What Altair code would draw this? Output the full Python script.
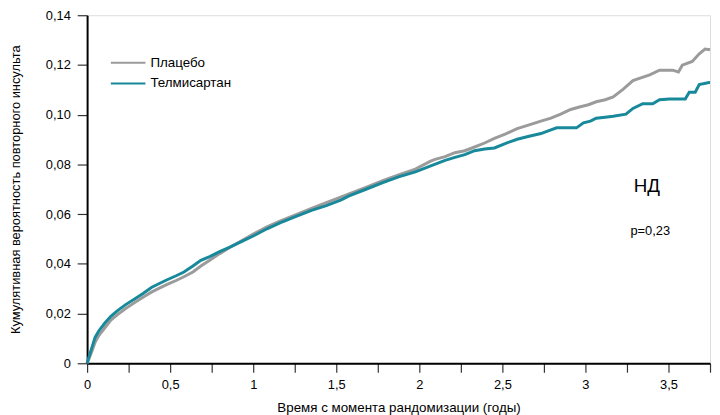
import altair as alt
import pandas as pd

# Kaplan-Meier style cumulative curves
years_placebo = [0, 0.012, 0.030, 0.048, 0.071, 0.107, 0.143, 0.185, 0.232, 0.286, 0.339, 0.387,
                 0.435, 0.482, 0.536, 0.583, 0.637, 0.685, 0.738, 0.798, 0.863, 0.935, 1.006,
                 1.083, 1.161, 1.262, 1.351, 1.440, 1.530, 1.577, 1.679, 1.780, 1.875, 1.976,
                 2.065, 2.095, 2.155, 2.214, 2.274, 2.333, 2.393, 2.452, 2.524, 2.589, 2.661,
                 2.732, 2.792, 2.851, 2.911, 2.970, 3.018, 3.065, 3.119, 3.167, 3.226, 3.286,
                 3.333, 3.387, 3.446, 3.524, 3.560, 3.583, 3.643, 3.685, 3.720, 3.75]
risk_placebo = [0, 0.0019, 0.0050, 0.0085, 0.0112, 0.0143, 0.0174, 0.0197, 0.0220, 0.0244, 0.0267,
                0.0286, 0.0302, 0.0317, 0.0333, 0.0348, 0.0367, 0.0391, 0.0414, 0.0441, 0.0468,
                0.0495, 0.0522, 0.0549, 0.0572, 0.0599, 0.0623, 0.0646, 0.0669, 0.0681, 0.0708,
                0.0735, 0.0758, 0.0781, 0.0812, 0.0820, 0.0831, 0.0847, 0.0855, 0.0870, 0.0886,
                0.0905, 0.0924, 0.0944, 0.0959, 0.0974, 0.0986, 0.1002, 0.1021, 0.1032, 0.1040,
                0.1052, 0.1060, 0.1071, 0.1102, 0.1137, 0.1148, 0.1160, 0.1179, 0.1179, 0.1172,
                0.1199, 0.1214, 0.1245, 0.1264, 0.1261]

years_telmi = [0, 0.012, 0.030, 0.048, 0.071, 0.107, 0.143, 0.185, 0.232, 0.286, 0.339, 0.387,
               0.435, 0.482, 0.536, 0.583, 0.637, 0.685, 0.738, 0.798, 0.863, 0.935, 1.006,
               1.083, 1.161, 1.262, 1.351, 1.440, 1.530, 1.577, 1.679, 1.780, 1.875, 1.976,
               2.065, 2.155, 2.214, 2.274, 2.333, 2.393, 2.452, 2.524, 2.589, 2.661, 2.732,
               2.780, 2.827, 2.899, 2.946, 2.988, 3.030, 3.065, 3.119, 3.167, 3.244, 3.286,
               3.345, 3.405, 3.446, 3.506, 3.601, 3.625, 3.661, 3.685, 3.744, 3.75]
risk_telmi = [0, 0.0027, 0.0066, 0.0104, 0.0131, 0.0162, 0.0189, 0.0213, 0.0236, 0.0259, 0.0282,
              0.0305, 0.0321, 0.0336, 0.0352, 0.0367, 0.0391, 0.0414, 0.0429, 0.0449, 0.0468,
              0.0491, 0.0514, 0.0541, 0.0565, 0.0592, 0.0615, 0.0634, 0.0657, 0.0673, 0.0700,
              0.0727, 0.0750, 0.0770, 0.0793, 0.0816, 0.0828, 0.0839, 0.0855, 0.0862, 0.0866,
              0.0886, 0.0901, 0.0913, 0.0924, 0.0936, 0.0947, 0.0947, 0.0947, 0.0967, 0.0974,
              0.0986, 0.0990, 0.0994, 0.1002, 0.1025, 0.1044, 0.1044, 0.1060, 0.1063, 0.1063,
              0.1090, 0.1090, 0.1121, 0.1129, 0.1129]

series_names = ["Плацебо", "Телмисартан"]
series_colors = ["#9b9b9b", "#17899a"]

x_ticks = [0, 0.25, 0.5, 0.75, 1, 1.25, 1.5, 1.75, 2, 2.25, 2.5, 2.75, 3, 3.25, 3.5, 3.75]
y_ticks = [0, 0.02, 0.04, 0.06, 0.08, 0.10, 0.12, 0.14]

note_text = ["НД", "p=0,23"]
note_x = [3.37, 3.39]
note_y = [0.0712, 0.0533]
note_size = [19, 13]

FONT = "Liberation Sans"

rows = []
for i, (xs, ys) in enumerate([(years_placebo, risk_placebo), (years_telmi, risk_telmi)]):
    for a, b in zip(xs, ys):
        rows.append({"t": a, "p": b, "group": series_names[i], "order": i})
df = pd.DataFrame(rows)

notes = pd.DataFrame({"t": note_x, "p": note_y, "label": note_text, "size": note_size})

xscale = alt.Scale(domain=[0, 3.75], nice=False, zero=False)
yscale = alt.Scale(domain=[0, 0.14], nice=False)

x_axis = alt.Axis(
    title="Время с момента рандомизации (годы)",
    values=x_ticks,
    labelExpr="datum.value % 0.5 == 0 ? replace(format(datum.value, '~g'), '.', ',') : ''",
    grid=False, domainColor="#000000", domainWidth=2, tickColor="#333333",
    tickSize=9, tickWidth=1.2, labelPadding=7, labelFontSize=13, labelFont=FONT,
    labelColor="#000000", titleFont=FONT, titleFontSize=13.5, titleFontWeight="normal",
    titleColor="#000000", titlePadding=9, labelFlush=False,
)
y_axis = alt.Axis(
    title="Кумулятивная вероятность повторного инсульта",
    values=y_ticks,
    labelExpr="datum.value == 0 ? '0' : replace(format(datum.value, '.2f'), '.', ',')",
    grid=False, domainColor="#000000", domainWidth=2, tickColor="#333333",
    tickSize=10, tickWidth=1.2, labelPadding=7, labelFontSize=13, labelFont=FONT,
    labelColor="#000000", titleFont=FONT, titleFontSize=13, titleFontWeight="normal",
    titleColor="#000000", titlePadding=23, labelFlush=False,
)

lines = alt.Chart(df).mark_line(strokeWidth=3, interpolate="linear").encode(
    x=alt.X("t:Q", scale=xscale, axis=x_axis),
    y=alt.Y("p:Q", scale=yscale, axis=y_axis),
    color=alt.Color(
        "group:N",
        scale=alt.Scale(domain=series_names, range=series_colors),
        legend=alt.Legend(
            title=None, orient="none", legendX=23, legendY=40,
            symbolType="stroke", symbolSize=1225, symbolStrokeWidth=2,
            clipHeight=16, rowPadding=5, labelFont=FONT, labelFontSize=13.5,
            labelColor="#000000", labelOffset=4,
        ),
    ),
    order=alt.Order("order:Q"),
    detail="group:N",
)

text = alt.Chart(notes).mark_text(font=FONT, color="#000000", align="center", baseline="middle").encode(
    x=alt.X("t:Q", scale=xscale),
    y=alt.Y("p:Q", scale=yscale),
    text="label:N",
    size=alt.Size("size:Q", scale=None, legend=None),
)

chart = alt.layer(lines, text).properties(
    width=630, height=352,
    autosize=alt.AutoSizeParams(type="none"),
    padding={"left": 80, "top": 5, "right": 2, "bottom": 50},
).configure_view(stroke=None).configure(background="#ffffff")

chart.save("out.html", embed_options={"renderer": "svg", "actions": False})
